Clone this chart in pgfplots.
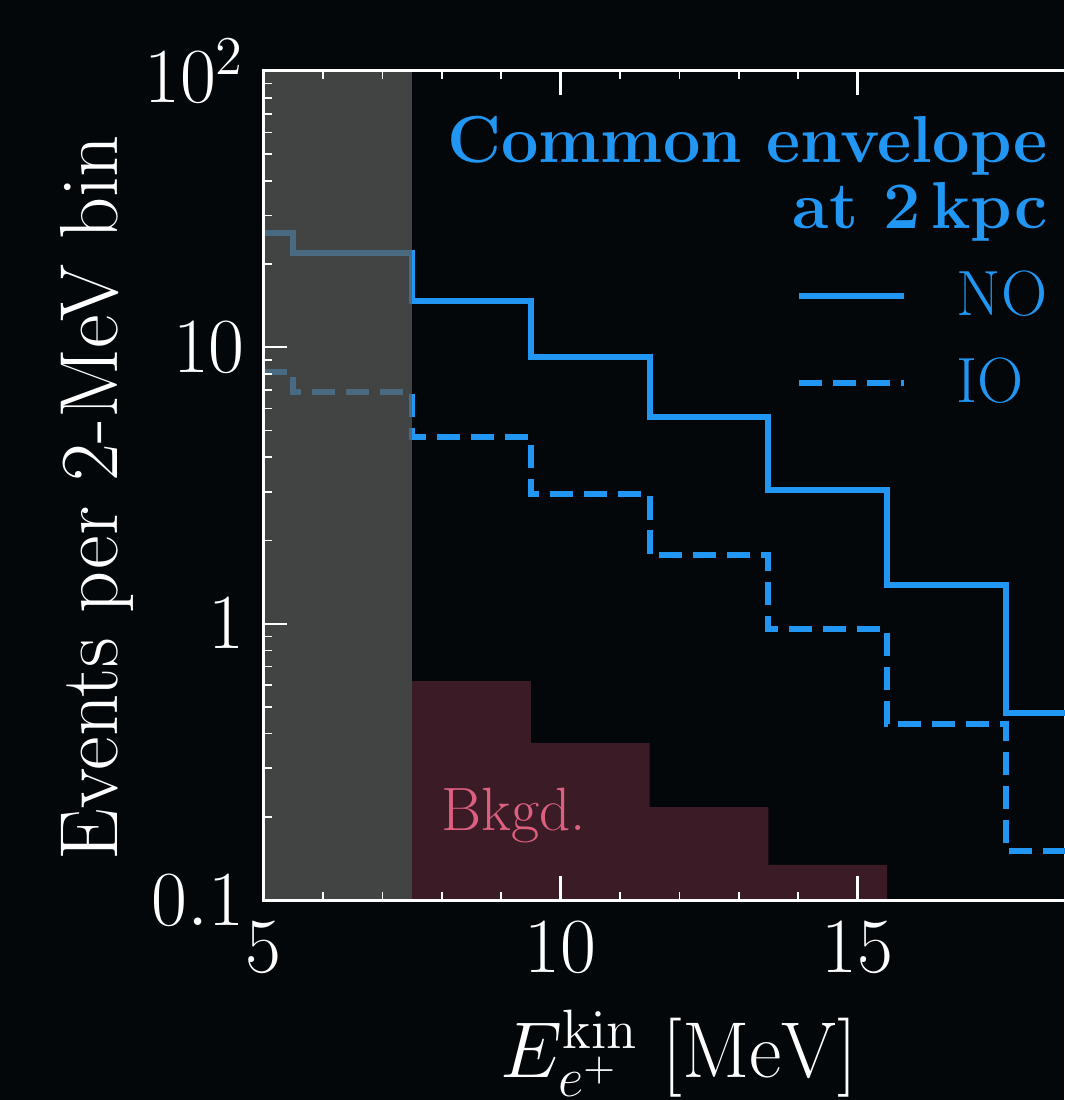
\RequirePackage{fix-cm}
\documentclass[border=0pt]{standalone}
\usepackage{pgfplots}
\pgfplotsset{compat=1.18}
\definecolor{bg}{RGB}{4,7,10}
\definecolor{cblue}{RGB}{33,150,243}
\definecolor{bkg}{RGB}{59,28,38}
\definecolor{bkgtext}{RGB}{222,96,128}
\definecolor{band}{RGB}{90,90,89}
\begin{document}
\begin{tikzpicture}
\fill[bg] (-65.875pt,-50pt) rectangle (200.125pt,225pt);
\begin{axis}[
  at={(0pt,0pt)}, anchor=south west,
  scale only axis, width=207.9pt, height=207.25pt,
  xmin=5, xmax=19, ymin=0.1, ymax=100, ymode=log,
  axis on top,
  axis line style={white, line width=0.75pt},
  xtick={5,10,15}, minor x tick num=4,
  ytick={0.1,1,10,100}, yticklabels={$0.1$,$1$,$10$,$10^2$},
  tick align=inside,
  major tick length=5.9pt, minor tick length=2.1pt,
  every major tick/.append style={white, line width=0.55pt},
  every minor tick/.append style={white, line width=0.4pt},
  tick label style={white, font=\fontsize{19.5}{23}\selectfont},
  xticklabel style={inner sep=0pt, yshift=-5.4pt},
  yticklabel style={inner sep=0pt, xshift=-4.5pt},
  xlabel={$E_{e^+}^{\mathrm{kin}}\ [\mathrm{MeV}]$},
  xlabel style={at={(rel axis cs:0.5,0)}, anchor=base, yshift=-44.3pt, white, font=\fontsize{19.8}{23}\selectfont},
  ylabel={Events per 2-MeV bin},
  ylabel style={at={(rel axis cs:-0.176,0.4855)}, anchor=base, white, font=\fontsize{20.6}{24}\selectfont},
  legend cell align=left,
  legend image code/.code={\draw[#1] (0pt,0pt) -- (26.25pt,0pt);},
  legend style={at={(rel axis cs:0.6403,0.759)}, anchor=north west, draw=none, fill=none,
    inner sep=0pt, outer sep=0pt, text=cblue, font=\fontsize{16}{19}\selectfont,
    nodes={inner sep=0pt}, row sep=9pt, column sep=12.5pt},
]
% background histogram
\addplot[fill=bkg, draw=none, forget plot] coordinates {
  (7.5,0.1) (7.5,0.62) (9.5,0.62) (9.5,0.37) (11.5,0.37) (11.5,0.217)
  (13.5,0.217) (13.5,0.134) (15.5,0.134) (15.5,0.1)} -- cycle;
% NO
\addplot[cblue, line width=1.5pt, const plot mark left, line join=miter] coordinates {
  (5,25.9) (5.5,22.0) (7.5,14.7) (9.5,9.24) (11.5,5.61) (13.5,3.04)
  (15.5,1.38) (17.5,0.476) (19,0.476)};
\addlegendentry{NO}
% IO
\addplot[cblue, line width=1.5pt, const plot mark left, line join=miter, dash pattern=on 5.8pt off 2.7pt] coordinates {
  (5,8.11) (5.5,6.90) (7.5,4.73) (9.5,2.94) (11.5,1.77) (13.5,0.956)
  (15.5,0.434) (17.5,0.150) (19,0.150)};
\addlegendentry{IO}
% threshold band
\addplot[fill=band, fill opacity=0.73, draw=none, forget plot] coordinates {
  (5,0.1) (5,100) (7.5,100) (7.5,0.1)} -- cycle;
\node[anchor=base east, inner sep=0pt, text=cblue, font=\fontsize{16.6}{19}\selectfont\bfseries] at (rel axis cs:0.9440,0.8902) {Common envelope};
\node[anchor=base east, inner sep=0pt, text=cblue, font=\fontsize{16.6}{19}\selectfont\bfseries] at (rel axis cs:0.9440,0.8106) {at 2\,kpc};
\node[anchor=base west, inner sep=0pt, text=bkgtext, font=\fontsize{15.3}{18}\selectfont] at (rel axis cs:0.2134,0.0836) {Bkgd.};
\end{axis}
\pgfresetboundingbox
\path[use as bounding box] (-65.875pt,-50pt) rectangle (200.125pt,225pt);
\end{tikzpicture}
\end{document}
